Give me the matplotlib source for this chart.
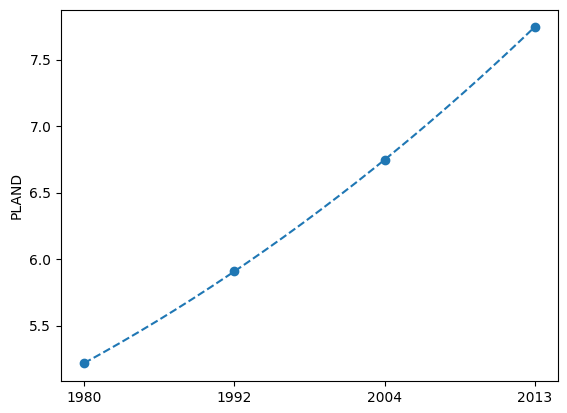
import numpy as np
import matplotlib
matplotlib.use("Agg")
import matplotlib.pyplot as plt

years = ['1980', '1992', '2004', '2013']
pland = [5.22, 5.91, 6.75, 7.75]

x = np.arange(len(years))

# smooth dashed curve through the points (cubic through 4 points)
coef = np.polyfit(x, pland, 3)
xs = np.linspace(x.min(), x.max(), 200)
ys = np.polyval(coef, xs)

fig = plt.figure(figsize=(5.67, 4.13), dpi=100)
ax = fig.add_axes([0.1076, 0.0775, 0.8766, 0.8985])
ax.plot(xs, ys, '--', color='#1f77b4')
ax.plot(x, pland, 'o', color='#1f77b4')
ax.set_xticks(x)
ax.set_xticklabels(years)
ax.set_ylabel('PLAND')
ax.set_xlim(-0.153, 3.153)
ax.set_ylim(5.086, 7.876)
fig.savefig('out.png', dpi=100)
